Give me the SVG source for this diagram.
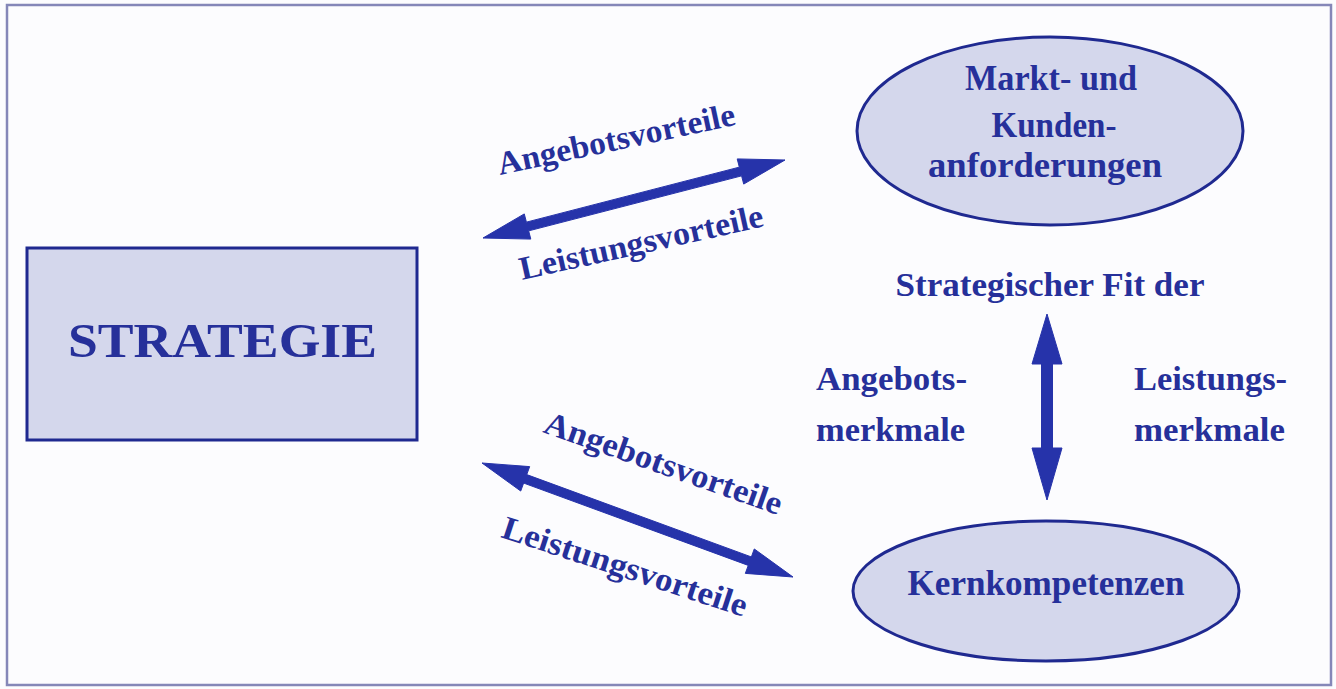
<svg xmlns="http://www.w3.org/2000/svg" width="1336" height="689" viewBox="0 0 1336 689">
<defs>
<style>
.t{font-family:"Liberation Serif","Times New Roman",serif;font-weight:bold;fill:#26309a;}
.shape{fill:#d4d7ec;stroke:#1f2990;stroke-width:3;}
.arr{fill:#2633aa;stroke:#2633aa;stroke-width:1;stroke-linejoin:round;}
</style>
</defs>
<rect x="0" y="0" width="1336" height="689" fill="#fcfcfe"/>
<rect x="7" y="5" width="1324" height="680" fill="#fcfcfe" stroke="#8587b8" stroke-width="2.5"/>

<g id="strategie">
<rect class="shape" x="27" y="248" width="390" height="192"/>
<text class="t" x="222.5" y="357" text-anchor="middle" font-size="48" textLength="309" lengthAdjust="spacingAndGlyphs">STRATEGIE</text>
</g>

<g id="markt">
<ellipse class="shape" cx="1050" cy="131" rx="193" ry="94"/>
<text class="t" x="1051" y="90" text-anchor="middle" font-size="35" textLength="172" lengthAdjust="spacingAndGlyphs">Markt- und</text>
<text class="t" x="1054" y="137" text-anchor="middle" font-size="35" textLength="125" lengthAdjust="spacingAndGlyphs">Kunden-</text>
<text class="t" x="1045" y="177" text-anchor="middle" font-size="35" textLength="234" lengthAdjust="spacingAndGlyphs">anforderungen</text>
</g>

<g id="kern">
<ellipse class="shape" cx="1046" cy="591" rx="193" ry="70"/>
<text class="t" x="1046" y="595" text-anchor="middle" font-size="35" textLength="277" lengthAdjust="spacingAndGlyphs">Kernkompetenzen</text>
</g>

<g id="connectors">
<polygon class="arr" points="483,238 530.79,239.09 528.67,230.86 741.59,175.86 743.71,184.09 785,160 737.21,158.91 739.33,167.14 526.41,222.14 524.29,213.91"/>
<polygon class="arr" points="482,463 520.72,491.04 523.64,483.06 748.26,565.40 745.34,573.38 793,577 754.28,548.96 751.36,556.94 526.74,474.60 529.66,466.62"/>
<polygon class="arr" points="1047,314 1062,364 1052.5,364 1052.5,448 1062,448 1047,500 1032,448 1041.5,448 1041.5,364 1032,364"/>
</g>

<g id="labels">
<text class="t" font-size="33" transform="translate(500,175) rotate(-12)" textLength="242" lengthAdjust="spacingAndGlyphs">Angebotsvorteile</text>
<text class="t" font-size="33" transform="translate(522,280) rotate(-12.5)" textLength="249" lengthAdjust="spacingAndGlyphs">Leistungsvorteile</text>
<text class="t" font-size="33" transform="translate(542,432) rotate(19.4)" textLength="250" lengthAdjust="spacingAndGlyphs">Angebotsvorteile</text>
<text class="t" font-size="33" transform="translate(500,537) rotate(18.2)" textLength="256" lengthAdjust="spacingAndGlyphs">Leistungsvorteile</text>
<text class="t" x="1050" y="296" text-anchor="middle" font-size="34" textLength="309" lengthAdjust="spacingAndGlyphs">Strategischer Fit der</text>
<text class="t" x="816" y="390" font-size="34" textLength="151" lengthAdjust="spacingAndGlyphs">Angebots-</text>
<text class="t" x="816" y="441" font-size="34" textLength="149" lengthAdjust="spacingAndGlyphs">merkmale</text>
<text class="t" x="1134" y="390" font-size="34" textLength="153" lengthAdjust="spacingAndGlyphs">Leistungs-</text>
<text class="t" x="1134" y="441" font-size="34" textLength="151" lengthAdjust="spacingAndGlyphs">merkmale</text>
</g>
</svg>
